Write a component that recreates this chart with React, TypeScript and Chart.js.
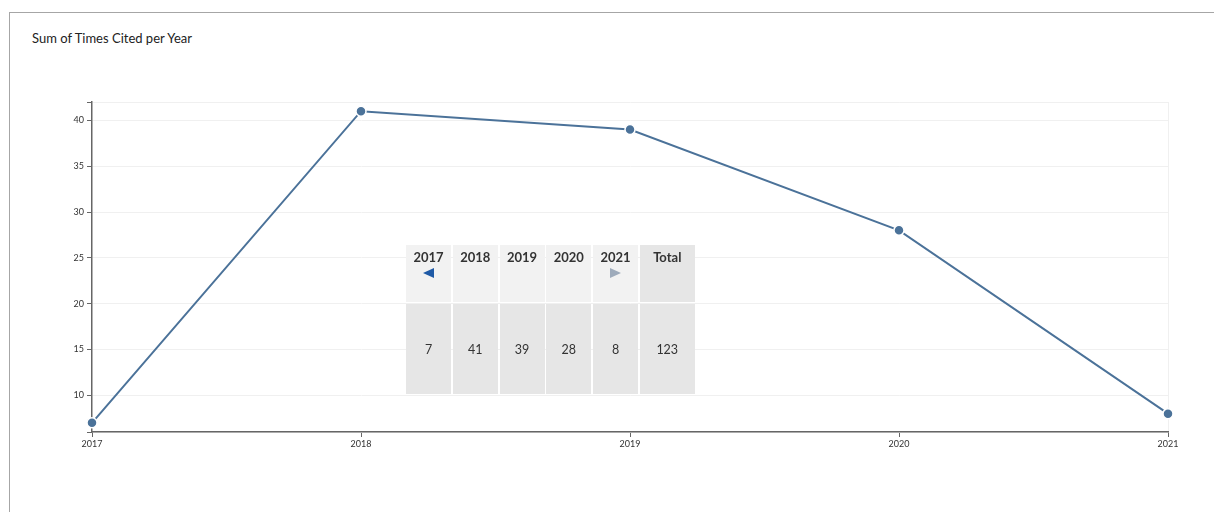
import React, { useEffect, useRef } from 'react';
import { Chart, registerables } from 'chart.js';

Chart.register(...registerables);

const title = 'Sum of Times Cited per Year';
const years = ['2017', '2018', '2019', '2020', '2021'];
const citations = [7, 41, 39, 28, 8];
const yTicks = [10, 15, 20, 25, 30, 35, 40];
const yMin = 6;
const yMax = 42;
const totalLabel = 'Total';
const totalValue = 123;

const LINE = '#4b7299';
const AXIS = '#666666';
const GRID = '#f0f0f0';
const FONT = 'Lato, "Noto Sans", sans-serif';

function LineChart() {
  const ref = useRef<HTMLCanvasElement | null>(null);
  useEffect(() => {
    if (!ref.current) return;
    const chart = new Chart(ref.current, {
      type: 'line',
      data: {
        labels: years,
        datasets: [
          {
            data: citations,
            borderColor: LINE,
            backgroundColor: LINE,
            borderWidth: 2,
            pointRadius: 5,
            pointBorderWidth: 1.5,
            pointBorderColor: '#ffffff',
            pointBackgroundColor: LINE,
            tension: 0,
            clip: false as any,
          },
        ],
      },
      options: {
        animation: false,
        responsive: false,
        maintainAspectRatio: false,
        layout: { padding: { left: 52, right: 46, top: 102, bottom: 50 } },
        plugins: { legend: { display: false }, tooltip: { enabled: false }, title: { display: false } },
        scales: {
          x: {
            type: 'category',
            offset: false,
            afterFit: (s: any) => { s.height = 30; },
            border: { display: true, color: AXIS, width: 1.5 },
            grid: {
              display: true,
              drawOnChartArea: true,
              color: (ctx: any) => (ctx.index === years.length - 1 ? GRID : 'rgba(0,0,0,0)'),
              tickColor: AXIS,
              tickLength: 5,
              lineWidth: 1,
            },
            ticks: {
              color: '#333',
              font: { family: FONT, size: 9 },
              padding: 2,
              maxRotation: 0,
              autoSkip: false,
            },
          },
          y: {
            type: 'linear',
            min: yMin,
            max: yMax,
            afterFit: (s: any) => { s.width = 40; },
            afterBuildTicks: (s: any) => {
              s.ticks = [yMin, ...yTicks, yMax].map((value) => ({ value }));
            },
            border: { display: true, color: AXIS, width: 1.5 },
            grid: {
              display: true,
              color: GRID,
              tickColor: AXIS,
              tickLength: 5,
              lineWidth: 1,
            },
            ticks: {
              color: '#333',
              font: { family: FONT, size: 9 },
              padding: 3,
              autoSkip: false,
              callback: (v: any) => (yTicks.includes(Number(v)) ? String(v) : ''),
            },
          },
        },
      },
    });
    return () => chart.destroy();
  }, []);
  return <canvas ref={ref} width={1214} height={512} style={{ position: 'absolute', left: 0, top: 0, width: 1214, height: 512 }} />;
}

function Triangle({ dir, color }: { dir: 'left' | 'right'; color: string }) {
  const s: React.CSSProperties = {
    display: 'inline-block',
    width: 0,
    height: 0,
    borderTop: '5px solid transparent',
    borderBottom: '5px solid transparent',
  };
  if (dir === 'left') s.borderRight = `11px solid ${color}`;
  else s.borderLeft = `11px solid ${color}`;
  return <span style={s} />;
}

function SummaryTable() {
  const headCell = (bg: string): React.CSSProperties => ({
    background: bg,
    textAlign: 'center',
    paddingTop: 4,
    boxSizing: 'border-box',
    fontWeight: 700,
    fontSize: 13,
    lineHeight: '16px',
    color: '#333',
  });
  const bodyCell: React.CSSProperties = {
    background: '#e6e6e6',
    display: 'flex',
    alignItems: 'center',
    justifyContent: 'center',
    fontSize: 12.5,
    color: '#333',
  };
  return (
    <div
      style={{
        position: 'absolute',
        left: 406,
        top: 244.5,
        display: 'grid',
        gridTemplateColumns: '45px 45px 45px 45px 45px 55px',
        gridTemplateRows: '57.5px 90px',
        columnGap: 1.75,
        rowGap: 2,
        fontFamily: FONT,
      }}
    >
      {years.map((y, i) => (
        <div key={'h' + y} style={headCell('#f2f2f2')}>
          <div>{y}</div>
          <div style={{ marginTop: 3, height: 10, lineHeight: 0 }}>
            {i === 0 ? <Triangle dir="left" color="#1f5aa6" /> : null}
            {i === years.length - 1 ? <Triangle dir="right" color="#9eabbb" /> : null}
          </div>
        </div>
      ))}
      <div style={headCell('#e6e6e6')}>{totalLabel}</div>
      {citations.map((c, i) => (
        <div key={'b' + i} style={bodyCell}>{c}</div>
      ))}
      <div style={bodyCell}>{totalValue}</div>
    </div>
  );
}

export default function App() {
  return (
    <div style={{ position: 'fixed', left: 0, top: 0, width: 1214, height: 512, overflow: 'hidden', background: '#fff' }}>
      <div
        style={{
          position: 'absolute',
          left: 9,
          top: 12,
          width: 1220,
          height: 520,
          borderLeft: '1px solid #a6a6a6',
          borderTop: '1px solid #a6a6a6',
        }}
      />
      <div
        style={{
          position: 'absolute',
          left: 32,
          top: 29.5,
          fontFamily: FONT,
          fontSize: 13,
          lineHeight: '16px',
          color: '#222',
          whiteSpace: 'nowrap',
        }}
      >
        {title}
      </div>
      <LineChart />
      <SummaryTable />
    </div>
  );
}
